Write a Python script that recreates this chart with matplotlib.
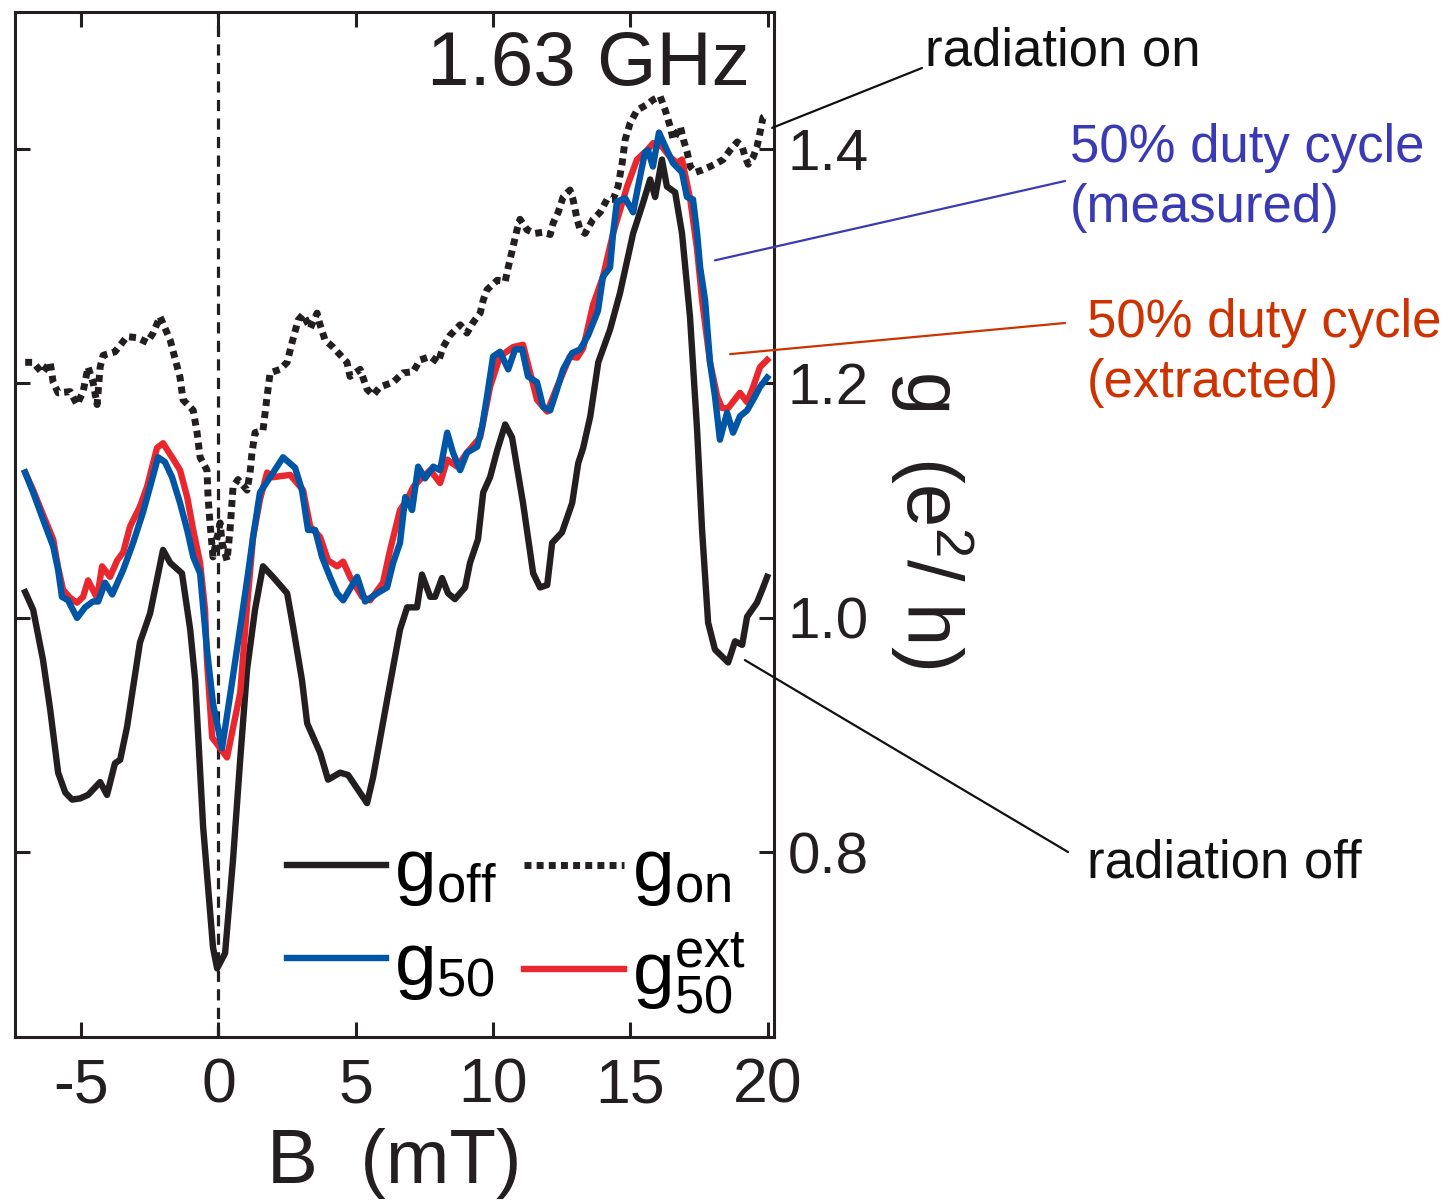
import matplotlib
matplotlib.use('Agg')
import matplotlib.pyplot as plt

# conductance vs field
b_off = [-7.04, -6.75, -6.39, -6.13, -5.84, -5.58, -5.33, -5.04, -4.75, -4.31, -4.06, -3.77, -3.58, -3.33, -2.86,
         -2.49, -2.02, -1.76, -1.33, -1.03, -0.85, -0.56, -0.20, -0.05, 0.24, 0.53, 0.79, 1.04, 1.33, 1.62,
         1.98, 2.50, 2.72, 3.04, 3.23, 3.70, 3.99, 4.43, 4.72, 5.41, 5.63, 6.14, 6.61, 6.87, 7.23,
         7.41, 7.71, 7.89, 8.14, 8.36, 8.61, 8.98, 9.16, 9.45, 9.64, 9.89, 10.15, 10.44, 10.69, 11.09,
         11.46, 11.71, 11.97, 12.15, 12.51, 12.88, 13.10, 13.28, 13.54, 13.83, 14.26, 14.62, 15.10, 15.46, 15.72,
         15.90, 16.15, 16.33, 16.63, 16.88, 17.17, 17.43, 17.61, 17.83, 18.08, 18.56, 18.81, 19.07, 19.25, 19.61,
         19.80, 19.98]
g_off = [1.022, 1.007, 0.964, 0.922, 0.868, 0.851, 0.845, 0.846, 0.849, 0.860, 0.849, 0.876, 0.879, 0.907, 0.979,
         1.004, 1.058, 1.047, 1.038, 0.990, 0.947, 0.822, 0.719, 0.701, 0.714, 0.794, 0.879, 0.956, 1.007, 1.044,
         1.035, 1.021, 0.992, 0.947, 0.910, 0.885, 0.862, 0.868, 0.866, 0.842, 0.864, 0.930, 0.990, 1.009, 1.009,
         1.037, 1.018, 1.018, 1.034, 1.021, 1.016, 1.026, 1.047, 1.067, 1.107, 1.120, 1.143, 1.165, 1.154, 1.098,
         1.038, 1.026, 1.028, 1.064, 1.073, 1.098, 1.132, 1.145, 1.172, 1.218, 1.246, 1.277, 1.328, 1.354, 1.374,
         1.359, 1.391, 1.368, 1.363, 1.328, 1.257, 1.160, 1.075, 0.996, 0.973, 0.962, 0.980, 0.977, 1.001, 1.013,
         1.024, 1.035]

b_on = [-7.04, -6.75, -6.42, -6.13, -6.02, -5.84, -5.40, -5.15, -4.93, -4.75, -4.57, -4.42, -4.31, -4.20, -3.77,
        -3.33, -2.96, -2.60, -2.38, -2.13, -1.76, -1.40, -1.29, -0.92, -0.78, -0.67, -0.42, -0.38, -0.31, -0.20,
        0.06, 0.13, 0.31, 0.42, 0.53, 0.71, 1.04, 1.15, 1.22, 1.33, 1.62, 1.77, 1.88, 2.24, 2.50,
        2.68, 2.90, 3.08, 3.34, 3.59, 3.70, 3.88, 4.17, 4.68, 4.79, 5.16, 5.41, 5.63, 5.88, 6.36,
        6.72, 7.09, 7.34, 7.71, 8.00, 8.18, 8.43, 8.80, 9.05, 9.27, 9.53, 9.64, 9.78, 10.15, 10.44,
        10.55, 10.73, 10.87, 10.98, 11.24, 11.53, 11.82, 12.08, 12.19, 12.37, 12.55, 12.80, 12.91, 13.06, 13.17,
        13.35, 13.64, 13.90, 14.15, 14.37, 14.55, 14.70, 14.81, 14.99, 15.24, 15.61, 15.83, 16.08, 16.27, 16.45,
        16.56, 16.82, 16.93, 17.07, 17.18, 17.36, 17.61, 17.90, 18.16, 18.38, 18.63, 18.89, 19.07, 19.18, 19.29,
        19.47, 19.61, 19.72, 19.83, 19.98]
g_on = [1.218, 1.218, 1.209, 1.218, 1.201, 1.192, 1.193, 1.182, 1.193, 1.214, 1.201, 1.182, 1.214, 1.224, 1.227,
        1.240, 1.239, 1.235, 1.243, 1.257, 1.237, 1.205, 1.186, 1.177, 1.158, 1.137, 1.126, 1.103, 1.081, 1.052,
        1.081, 1.064, 1.049, 1.075, 1.112, 1.118, 1.109, 1.124, 1.141, 1.158, 1.160, 1.189, 1.209, 1.212, 1.218,
        1.235, 1.254, 1.259, 1.247, 1.260, 1.250, 1.237, 1.231, 1.218, 1.206, 1.212, 1.195, 1.190, 1.197, 1.201,
        1.209, 1.210, 1.220, 1.223, 1.218, 1.231, 1.241, 1.250, 1.243, 1.252, 1.260, 1.271, 1.280, 1.288, 1.287,
        1.299, 1.317, 1.331, 1.340, 1.331, 1.328, 1.329, 1.327, 1.337, 1.346, 1.359, 1.365, 1.357, 1.340, 1.331,
        1.328, 1.340, 1.346, 1.357, 1.357, 1.368, 1.388, 1.408, 1.422, 1.433, 1.438, 1.442, 1.445, 1.433, 1.419,
        1.408, 1.419, 1.408, 1.397, 1.385, 1.380, 1.382, 1.385, 1.388, 1.391, 1.399, 1.406, 1.402, 1.393, 1.387,
        1.393, 1.402, 1.414, 1.427, 1.429]

b_50 = [-7.04, -6.75, -6.39, -6.02, -5.84, -5.70, -5.48, -5.15, -4.86, -4.57, -4.38, -4.13, -3.87, -3.47, -3.11,
        -2.75, -2.49, -2.20, -1.95, -1.69, -1.40, -1.14, -0.92, -0.67, -0.42, -0.20, 0.13, 0.50, 0.86, 1.04,
        1.26, 1.51, 1.88, 2.13, 2.35, 2.79, 3.04, 3.26, 3.52, 3.77, 4.06, 4.32, 4.54, 5.05, 5.34,
        5.78, 6.14, 6.36, 6.61, 6.80, 7.05, 7.27, 7.52, 7.82, 8.07, 8.33, 8.54, 8.80, 9.05, 9.42,
        9.60, 9.78, 10.00, 10.25, 10.55, 10.80, 11.06, 11.27, 11.60, 11.82, 12.08, 12.33, 12.55, 12.88, 13.17,
        13.46, 13.82, 14.00, 14.26, 14.37, 14.51, 14.81, 15.10, 15.28, 15.53, 15.64, 15.82, 16.04, 16.33, 16.55,
        16.88, 17.06, 17.28, 17.43, 17.54, 17.72, 17.90, 18.08, 18.26, 18.52, 18.74, 18.99, 19.25, 19.47, 19.72,
        19.98]
g_50 = [1.124, 1.107, 1.084, 1.061, 1.041, 1.018, 1.015, 1.000, 1.009, 1.014, 1.014, 1.030, 1.020, 1.041, 1.064,
        1.090, 1.112, 1.137, 1.133, 1.120, 1.098, 1.075, 1.052, 1.038, 0.973, 0.927, 0.889, 0.946, 1.003, 1.032,
        1.069, 1.107, 1.120, 1.129, 1.137, 1.128, 1.109, 1.075, 1.075, 1.052, 1.035, 1.021, 1.015, 1.035, 1.014,
        1.021, 1.026, 1.047, 1.064, 1.103, 1.092, 1.129, 1.119, 1.129, 1.126, 1.158, 1.141, 1.126, 1.141, 1.146,
        1.163, 1.189, 1.223, 1.227, 1.212, 1.229, 1.229, 1.206, 1.201, 1.180, 1.177, 1.195, 1.212, 1.226, 1.229,
        1.241, 1.262, 1.291, 1.299, 1.328, 1.355, 1.358, 1.346, 1.368, 1.397, 1.399, 1.385, 1.414, 1.399, 1.388,
        1.380, 1.359, 1.357, 1.328, 1.299, 1.271, 1.218, 1.189, 1.152, 1.175, 1.158, 1.172, 1.177, 1.186, 1.197,
        1.205]

b_ext = [-7.04, -6.75, -6.39, -6.02, -5.84, -5.66, -5.40, -5.15, -4.93, -4.75, -4.42, -4.24, -3.95, -3.69, -3.47,
         -3.22, -2.86, -2.60, -2.24, -2.02, -1.69, -1.40, -1.14, -0.92, -0.67, -0.49, -0.42, -0.23, 0.31, 0.79,
         1.04, 1.26, 1.51, 1.77, 1.98, 2.61, 3.08, 3.34, 3.70, 3.99, 4.32, 4.54, 4.79, 5.23, 5.52,
         5.99, 6.25, 6.61, 6.87, 7.10, 7.34, 7.71, 8.07, 8.33, 8.69, 9.05, 9.53, 9.89, 10.25, 10.73,
         11.09, 11.35, 11.60, 11.97, 12.33, 12.80, 13.06, 13.28, 13.64, 14.00, 14.37, 14.88, 15.24, 15.61, 15.83,
         16.15, 16.45, 16.70, 16.88, 17.18, 17.43, 17.61, 17.90, 18.16, 18.34, 18.56, 18.99, 19.25, 19.47, 19.72,
         19.98]
g_ext = [1.124, 1.109, 1.088, 1.067, 1.043, 1.024, 1.017, 1.013, 1.018, 1.032, 1.017, 1.044, 1.035, 1.049, 1.056,
         1.078, 1.095, 1.112, 1.145, 1.149, 1.137, 1.126, 1.103, 1.075, 1.047, 1.007, 0.964, 0.898, 0.881, 0.936,
         1.010, 1.069, 1.101, 1.124, 1.120, 1.122, 1.109, 1.078, 1.069, 1.049, 1.044, 1.048, 1.035, 1.018, 1.015,
         1.030, 1.058, 1.092, 1.101, 1.112, 1.118, 1.126, 1.115, 1.135, 1.129, 1.141, 1.154, 1.197, 1.223, 1.231,
         1.233, 1.209, 1.186, 1.176, 1.197, 1.223, 1.222, 1.230, 1.267, 1.291, 1.328, 1.368, 1.391, 1.399, 1.405,
         1.402, 1.393, 1.388, 1.391, 1.357, 1.314, 1.271, 1.218, 1.189, 1.179, 1.179, 1.192, 1.184, 1.197, 1.214,
         1.220]

x_ticks = [-5, 0, 5, 10, 15, 20]
y_ticks = [0.8, 1.0, 1.2, 1.4]
y_tick_labels = ['0.8', '1.0', '1.2', '1.4']

plt.rcParams['font.family'] = ['Liberation Sans', 'DejaVu Sans']
plt.rcParams['mathtext.fontset'] = 'custom'
plt.rcParams['mathtext.rm'] = 'Liberation Sans'
plt.rcParams['mathtext.it'] = 'Liberation Sans:italic'
plt.rcParams['mathtext.bf'] = 'Liberation Sans:bold'
plt.rcParams['axes.unicode_minus'] = False

ink = '#231f20'
fig = plt.figure(figsize=(14.56, 12.04), dpi=100)
ax = fig.add_axes([0.0105, 0.1387, 0.5211, 0.8511])

ax.axvline(0, color=ink, lw=2.3, dashes=(3.5, 2.3))
l_on, = ax.plot(b_on, g_on, color=ink, lw=5.0, dashes=(1.0, 0.75), label=r'$\mathrm{g_{on}}$')
l_off, = ax.plot(b_off, g_off, color=ink, lw=4.6, label=r'$\mathrm{g_{off}}$')
l_ext, = ax.plot(b_ext, g_ext, color='#e8282e', lw=4.6, label=r'$\mathrm{g^{ext}_{50}}$')
l_50, = ax.plot(b_50, g_50, color='#0055a6', lw=4.6, label=r'$\mathrm{g_{50}}$')

ax.set_xlim(-7.40, 20.23)
ax.set_ylim(0.6425, 1.5166)
ax.set_xticks(x_ticks)
ax.set_yticks(y_ticks)
ax.set_yticklabels(y_tick_labels)
ax.tick_params(direction='in', length=11, width=2.2, color=ink, labelcolor=ink,
               top=True, right=True, left=True, labelleft=False, labelright=True)
ax.tick_params(axis='x', labelsize=45, pad=14)
ax.tick_params(axis='y', labelsize=42, pad=10)
for s in ax.spines.values():
    s.set_linewidth(2.2)
    s.set_color(ink)

ax.set_xlabel('B  (mT)', fontsize=55, color=ink, labelpad=9)
ax.yaxis.set_label_position('right')
ax.set_ylabel(r'$\mathrm{g\ \ (e^{2}/\ h)}$', fontsize=56, color=ink, rotation=-90, ha='center', va='center')
ax.yaxis.set_label_coords(1.208, 0.505)

ax.legend(handles=[l_off, l_50, l_on, l_ext], ncol=2, loc='upper left', bbox_to_anchor=(0.3575, 0.195),
          frameon=False, fontsize=54, handlelength=1.33, handletextpad=0.1, columnspacing=0.37,
          labelspacing=0.3, borderpad=0, borderaxespad=0)

fig.text(427 / 1456, 1 - 85 / 1204, '1.63 GHz', fontsize=55, color=ink, va='baseline')

# callouts (multi-line texts are anchored at the baseline of their last line)
ann = dict(fontsize=38, ha='left', va='baseline')
fig.text(925 / 1456, 1 - 66 / 1204, 'radiation on', color='#111111', **ann)
fig.text(1070 / 1456, 1 - 222 / 1204, '50% duty cycle\n(measured)', color='#3a3ab4', linespacing=1.25, **ann)
fig.text(1087 / 1456, 1 - 397 / 1204, '50% duty cycle\n(extracted)', color='#cc3300', linespacing=1.25, **ann)
fig.text(1087 / 1456, 1 - 877 / 1204, 'radiation off', color='#111111', **ann)

lines = [((20.16, 1.418), (922, 68), '#111111'),
         ((18.08, 1.305), (1065, 181), '#3a3ab4'),
         ((18.63, 1.225), (1065, 323), '#cc3300'),
         ((19.17, 0.964), (1068, 852), '#111111')]
for xy, end, c in lines:
    ax.annotate('', xy=xy, xycoords='data', xytext=(end[0] / 1456, 1 - end[1] / 1204),
                textcoords='figure fraction', annotation_clip=False,
                arrowprops=dict(arrowstyle='-', color=c, lw=1.6, shrinkA=0, shrinkB=0))

fig.savefig('out.png', dpi=100)
